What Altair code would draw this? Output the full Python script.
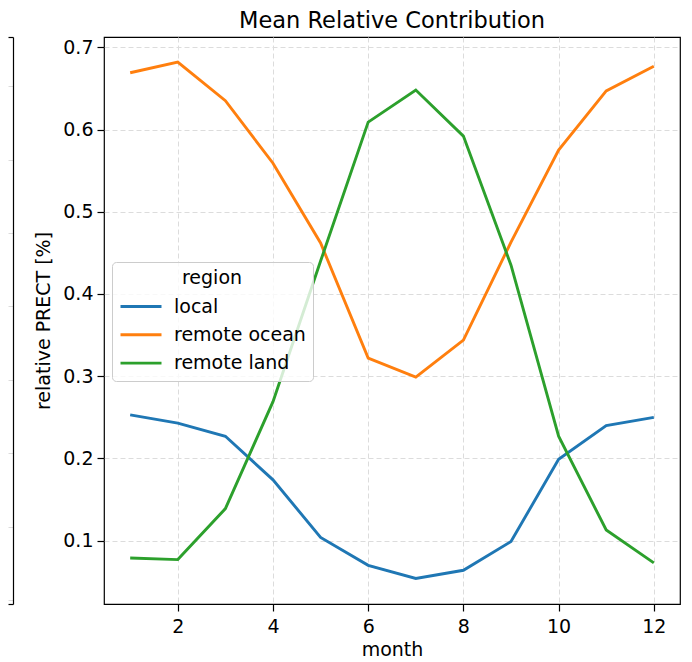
import altair as alt
import pandas as pd

months = list(range(1, 13))
local = [0.253, 0.243, 0.227, 0.174, 0.104, 0.070, 0.054, 0.064, 0.099, 0.199, 0.240, 0.250]
remote_ocean = [0.669, 0.682, 0.635, 0.559, 0.462, 0.322, 0.299, 0.344, 0.463, 0.575, 0.647, 0.677]
remote_land = [0.079, 0.077, 0.139, 0.269, 0.440, 0.609, 0.648, 0.592, 0.435, 0.227, 0.113, 0.073]
regions = ["local", "remote ocean", "remote land"]
colors = ["#1f77b4", "#ff7f0e", "#2ca02c"]

rows = []
for name, vals in zip(regions, [local, remote_ocean, remote_land]):
    for m, v in zip(months, vals):
        rows.append({"month": m, "value": v, "region": name})
df = pd.DataFrame(rows)

FONT = "DejaVu Sans"
FS = 19
grid_dash = [5, 3]

main = alt.Chart(
    df,
    title=alt.TitleParams("Mean Relative Contribution", fontSize=22.5, font=FONT,
                          fontWeight="normal", color="black", offset=5),
    view=alt.ViewBackground(stroke="black", strokeWidth=1.2),
).mark_line(strokeWidth=2.9).encode(
    x=alt.X("month:Q",
            scale=alt.Scale(domain=[0.45, 12.55], nice=False, zero=False),
            axis=alt.Axis(values=[2, 4, 6, 8, 10, 12], title="month", domain=False,
                          tickColor="black", tickSize=7, tickWidth=1.2,
                          labelFont=FONT, labelFontSize=FS, labelColor="black",
                          labelPadding=6, titleFont=FONT, titleFontSize=FS,
                          titleFontWeight="normal", titleColor="black", titlePadding=4,
                          grid=True, gridDash=grid_dash, gridColor="#dcdcdc", gridWidth=1)),
    y=alt.Y("value:Q",
            scale=alt.Scale(domain=[0.023, 0.7125], nice=False, zero=False),
            axis=alt.Axis(values=[0.1, 0.2, 0.3, 0.4, 0.5, 0.6, 0.7], format=".1f",
                          title="relative PRECT [%]", domain=False,
                          tickColor="black", tickSize=7, tickWidth=1.2,
                          labelFont=FONT, labelFontSize=FS, labelColor="black",
                          labelPadding=4, titleFont=FONT, titleFontSize=FS,
                          titleFontWeight="normal", titleColor="black", titlePadding=9,
                          grid=True, gridDash=grid_dash, gridColor="#dcdcdc", gridWidth=1)),
    color=alt.Color("region:N", sort=regions,
                    scale=alt.Scale(domain=regions, range=colors),
                    legend=alt.Legend(orient="none", legendX=104, legendY=225,
                                      title="region", titleFont=FONT, titleFontSize=FS,
                                      titleFontWeight="normal", titleColor="black",
                                      titleAnchor="middle", titlePadding=8.5,
                                      labelFont=FONT, labelFontSize=FS, labelColor="black",
                                      symbolType="M-2,0H2", symbolSize=420,
                                      symbolStrokeWidth=2.9, symbolOffset=10,
                                      symbolFillColor="transparent",
                                      clipHeight=20, rowPadding=8.3, labelOffset=21,
                                      strokeColor="#cccccc", fillColor="rgba(255,255,255,0.8)",
                                      cornerRadius=4, padding=7)),
).properties(width=576, height=567)

left_ticks = [0, 1, 2, 3, 4, 5, 6, 7]
left_df = pd.DataFrame({"t": left_ticks, "x": [0.5] * len(left_ticks)})
left_base = alt.Chart(left_df).mark_point(opacity=0, size=1, strokeWidth=0)
left_y = alt.Y("t:Q", scale=alt.Scale(domain=[-0.054, 7.67], nice=False, zero=False),
               axis=alt.Axis(orient="right", values=left_ticks, labels=False, ticks=False,
                             title=None, domain=True, domainColor="black", domainWidth=1.2,
                             grid=True, gridDash=grid_dash, gridColor="#dcdcdc", gridWidth=1))
left_bottom = left_base.encode(
    x=alt.X("x:Q", scale=alt.Scale(domain=[0, 1]),
            axis=alt.Axis(orient="bottom", labels=False, ticks=False, title=None,
                          grid=False, domain=True, domainColor="black", domainWidth=1.2)),
    y=left_y,
)
left_top = left_base.encode(
    x=alt.X("x:Q", scale=alt.Scale(domain=[0, 1]),
            axis=alt.Axis(orient="top", labels=False, ticks=False, title=None,
                          grid=False, domain=True, domainColor="black", domainWidth=1.2)),
    y=left_y,
)
left = alt.layer(left_bottom, left_top).resolve_axis(x="independent").properties(
    width=5, height=567, view=alt.ViewBackground(stroke="transparent"),
)

chart = alt.hconcat(left, main, spacing=91, bounds="flush").properties(
    autosize=alt.AutoSizeParams(type="none"),
    padding={"left": 0, "top": 29, "right": 676, "bottom": 617},
).configure(
    background="white",
)

chart.save("out.html", embed_options={"renderer": "svg", "actions": False})
